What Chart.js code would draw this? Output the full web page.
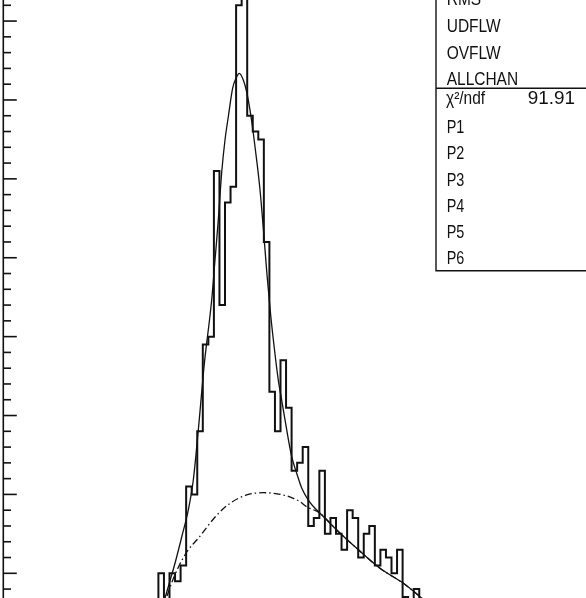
<!DOCTYPE html>
<html>
<head>
<meta charset="utf-8">
<script src="https://cdn.jsdelivr.net/npm/chart.js@4.4.0/dist/chart.umd.min.js"></script>
<style>
html, body { margin: 0; padding: 0; background: #fff; overflow: hidden; }
canvas { display: block; }
</style>
</head>
<body>
<canvas id="hist" width="586" height="598"></canvas>
<script>
// histogram: counts per bin, first bin starts at x = firstBin (bin width 1)
var firstBin = 26;
var binCounts = [3, 5, 10, 6, 10, 9, 11, 21, 20, 28, 39, 40, 61, 44, 57, 59, 82, 88, 68, 66,
                 65, 52, 33, 28, 37, 31, 23, 24, 26, 16, 17, 23, 15, 17, 15, 13, 18, 17, 12, 15,
                 16, 11, 13, 12, 10, 13, 7, 6, 8, 5, 4];

// total fit (solid)
var fitX = [29.19, 29.78, 30.99, 32.20, 33.39, 34.29, 35.19, 36.27, 37.60, 38.20, 38.79, 39.41,
            40.00, 40.59, 41.39, 41.98, 42.58, 43.30, 43.91, 44.50, 45.10, 45.77, 46.31, 46.90,
            47.57, 48.23, 48.88, 49.60, 50.27, 51.12, 52.02, 52.92, 53.82, 55.01, 56.52, 57.12,
            60.13, 63.73, 67.93, 72.13, 75.14, 76.22];
var fitY = [6.87, 8.30, 11.27, 14.60, 18.03, 21.83, 28.17, 36.53, 44.65, 49.71, 54.78, 60.87,
            64.93, 67.84, 71.52, 72.75, 73.38, 72.53, 71.01, 68.73, 65.81, 62.01, 58.59, 53.77,
            47.81, 42.74, 38.56, 34.50, 31.71, 28.17, 24.78, 22.68, 20.81, 19.29, 18.02, 17.61,
            15.49, 13.17, 10.63, 8.73, 7.04, 6.36];

// background part of the fit (dash-dot)
var bkgX = [29.55, 30.45, 31.53, 33.10, 35.19, 38.38, 40.90, 43.91, 46.90, 50.50, 52.31, 53.51,
            54.72, 57.12, 60.13, 63.73, 67.93, 72.13, 75.14, 76.22];
var bkgY = [7.13, 8.90, 10.67, 12.70, 14.44, 17.26, 18.87, 19.93, 20.22, 19.93, 19.51, 19.08,
            18.44, 17.61, 15.49, 13.17, 10.63, 8.73, 7.04, 6.36];

var majorTicks = [10, 20, 30, 40, 50, 60, 70, 80];
var minorTicks = [8, 12, 14, 16, 18, 22, 24, 26, 28, 32, 34, 36, 38, 42, 44, 46, 48,
                  52, 54, 56, 58, 62, 64, 66, 68, 72, 74, 76, 78, 82];

var statLabels = ["RMS", "UDFLW", "OVFLW", "ALLCHAN"];
var fitLabels = ["P1", "P2", "P3", "P4", "P5", "P6"];
var chi2Label = "\u03C7\u00B2/ndf";
var chi2Value = "91.91";

var histPoints = [];
for (var i = 0; i < binCounts.length; i++) {
  histPoints.push({x: firstBin + i, y: binCounts[i]});
}
histPoints.push({x: firstBin + binCounts.length, y: binCounts[binCounts.length - 1]});

var fitPoints = fitX.map(function(x, i) { return {x: x, y: fitY[i]}; });
var bkgPoints = bkgX.map(function(x, i) { return {x: x, y: bkgY[i]}; });

function drawText(ctx, t, x, y, align, sx) {
  ctx.save();
  ctx.translate(x, y);
  ctx.scale(sx || 0.86, 1);
  ctx.textAlign = align || "left";
  ctx.fillText(t, 0, 0);
  ctx.restore();
}

var frame = {
  id: "frame",
  afterDraw: function(chart) {
    var ctx = chart.ctx;
    var xs = chart.scales.x, ys = chart.scales.y;
    var ax = xs.getPixelForValue(0) + 0.3;
    ctx.save();
    ctx.strokeStyle = "#111";
    ctx.lineWidth = 1.6;
    ctx.beginPath();
    ctx.moveTo(ax, 0);
    ctx.lineTo(ax, 598);
    ctx.stroke();
    majorTicks.forEach(function(v) {
      var y = ys.getPixelForValue(v);
      ctx.beginPath(); ctx.moveTo(ax, y); ctx.lineTo(ax + 13.5, y); ctx.stroke();
    });
    minorTicks.forEach(function(v) {
      var y = ys.getPixelForValue(v);
      ctx.beginPath(); ctx.moveTo(ax, y); ctx.lineTo(ax + 7.7, y); ctx.stroke();
    });

    // stats box
    var bx = 436;
    ctx.fillStyle = "#fff";
    ctx.fillRect(bx, 0, 586 - bx, 271);
    ctx.lineWidth = 1.4;
    ctx.beginPath();
    ctx.moveTo(bx, 0); ctx.lineTo(bx, 270.7); ctx.lineTo(586, 270.7);
    ctx.moveTo(bx, 88.3); ctx.lineTo(586, 88.3);
    ctx.stroke();

    ctx.fillStyle = "#111";
    ctx.font = '18px "Liberation Sans", Arial, sans-serif';
    statLabels.forEach(function(t, i) {
      drawText(ctx, t, 446.7, 5.3 + i * 26.6);
    });
    drawText(ctx, chi2Label, 446, 104);
    drawText(ctx, chi2Value, 575, 104, "right", 1.05);
    fitLabels.forEach(function(t, i) {
      drawText(ctx, t, 446.7, 133.3 + i * 26.1, "left", 0.8);
    });
    ctx.restore();
  }
};

var ctx = document.getElementById("hist");

var chart = new Chart(ctx, {
  type: "line",
  data: {
    datasets: [
      {
        label: "histogram",
        data: histPoints,
        stepped: true,
        borderColor: "#111",
        borderWidth: 2,
        pointRadius: 0,
        fill: false
      },
      {
        label: "fit",
        data: fitPoints,
        borderColor: "#111",
        borderWidth: 1.3,
        cubicInterpolationMode: "monotone",
        pointRadius: 0,
        fill: false
      },
      {
        label: "background",
        data: bkgPoints,
        borderColor: "#111",
        borderWidth: 1.3,
        borderDash: [7, 3, 1.5, 3],
        cubicInterpolationMode: "monotone",
        pointRadius: 0,
        fill: false
      }
    ]
  },
  options: {
    responsive: false,
    animation: false,
    devicePixelRatio: 1,
    layout: { padding: 0 },
    plugins: {
      legend: { display: false },
      tooltip: { enabled: false }
    },
    scales: {
      x: { type: "linear", min: -0.5405, max: 105.045, display: false },
      y: { type: "linear", min: 6.87, max: 82.67, display: false }
    }
  },
  plugins: [frame]
});
</script>
</body>
</html>
